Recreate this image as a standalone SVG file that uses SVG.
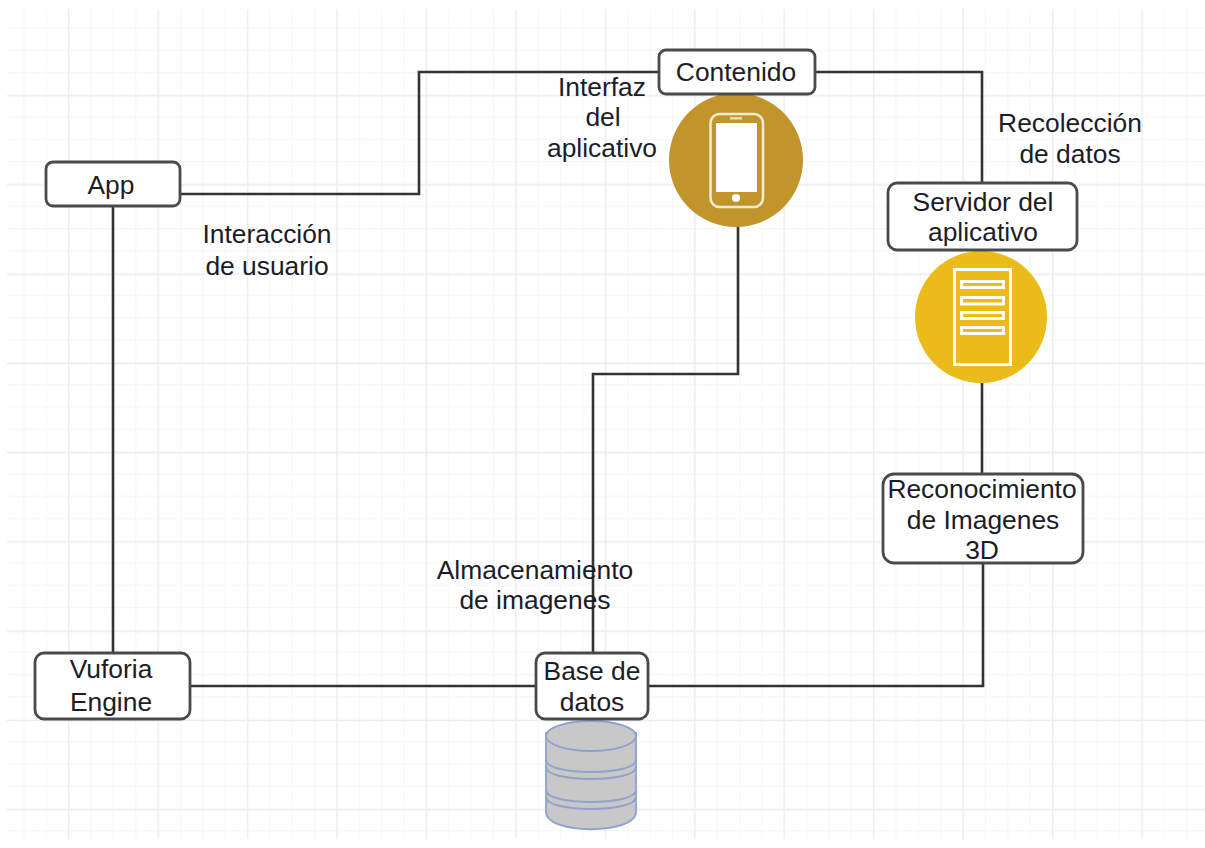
<svg xmlns="http://www.w3.org/2000/svg" width="1205" height="848" viewBox="0 0 1205 848">
<style>
.box{fill:#fff;stroke:#4a4a4a;stroke-width:2.8}
.wire{fill:none;stroke:#333;stroke-width:2.6}
text{font-family:"Liberation Sans",Arial,sans-serif;font-size:26.4px;fill:#1c1c28;text-anchor:middle}
.db{fill:#c8c8c8;stroke:#8ea2cc;stroke-width:1.8}
.wl{fill:none;stroke:#fff;stroke-width:3}
</style>
<defs>
<pattern id="minor" width="22.36" height="22.3" patternUnits="userSpaceOnUse" x="1" y="5">
<path d="M0.5 0V22.3M0 0.5H22.36" fill="none" stroke="#f7f7f7" stroke-width="1.4"/>
</pattern>
<pattern id="major" width="89.45" height="89.25" patternUnits="userSpaceOnUse" x="68" y="6">
<path d="M0.5 0V89.25M0 0.5H89.45" fill="none" stroke="#ececec" stroke-width="1.5"/>
</pattern>
</defs>
<rect width="1205" height="848" fill="#fff"/>
<g id="grid">
<rect x="7" y="9" width="1198" height="830" fill="url(#minor)"/>
<rect x="7" y="9" width="1198" height="830" fill="url(#major)"/>
</g>
<g id="connectors">
<path class="wire" d="M180 194H419V72H659"/>
<path class="wire" d="M815 72H982V183"/>
<path class="wire" d="M982 383V474"/>
<path class="wire" d="M113 206V653"/>
<path class="wire" d="M190 686H536"/>
<path class="wire" d="M648 686H983V562"/>
<path class="wire" d="M738 226V374H593V653"/>
</g>
<g id="icon-phone">
<circle cx="736" cy="160" r="67" fill="#c1952c"/>
<rect x="710.500" y="114" width="52.500" height="93" rx="9" fill="none" stroke="#f3ead2" stroke-width="2.6"/>
<rect x="716" y="123" width="41" height="69" fill="#fff"/>
<rect x="730" y="117" width="12" height="2.6" fill="#e9d8ac"/>
<circle cx="736" cy="198" r="4" fill="#fff"/>
</g>
<g id="icon-server">
<circle cx="981" cy="317" r="66" fill="#ebbc19"/>
<rect x="954.500" y="269.500" width="56" height="95" class="wl"/>
<rect x="961.500" y="281.500" width="42" height="6" class="wl"/>
<rect x="961.500" y="297.500" width="42" height="6.500" class="wl"/>
<rect x="961.500" y="312.500" width="42" height="6" class="wl"/>
<rect x="961.500" y="327.500" width="42" height="6" class="wl"/>
</g>
<g id="icon-db">
<path class="db" d="M546 733V812C546 835 636 835 636 812V733Z"/>
<ellipse class="db" cx="591" cy="736" rx="45" ry="15"/>
<path class="db" style="fill:none" d="M546 760C546 776 636 776 636 760M546 767C546 783 636 783 636 767M546 790C546 806 636 806 636 790M546 797C546 813 636 813 636 797"/>
</g>
<g id="node-contenido">
<rect class="box" x="659" y="50" width="156" height="44" rx="7"/>
<text x="736" y="81">Contenido</text>
</g>
<g id="node-app">
<rect class="box" x="46" y="162" width="134" height="44" rx="7"/>
<text x="111" y="194">App</text>
</g>
<g id="node-servidor">
<rect class="box" x="888" y="183" width="189" height="67" rx="9"/>
<text x="983" y="211">Servidor del</text>
<text x="983" y="241">aplicativo</text>
</g>
<g id="node-reconocimiento">
<rect class="box" x="883" y="474" width="200" height="89" rx="11"/>
<text x="982" y="498">Reconocimiento</text>
<text x="983" y="529">de Imagenes</text>
<text x="982" y="559">3D</text>
</g>
<g id="node-vuforia">
<rect class="box" x="35" y="653" width="155" height="66" rx="9"/>
<text x="111" y="678">Vuforia</text>
<text x="111" y="711">Engine</text>
</g>
<g id="node-base">
<rect class="box" x="536" y="653" width="112" height="66" rx="9"/>
<text x="592" y="680">Base de</text>
<text x="592" y="711">datos</text>
</g>
<g id="labels">
<text x="602" y="96">Interfaz</text>
<text x="603" y="126">del</text>
<text x="602" y="157">aplicativo</text>
<text x="1070" y="132">Recolección</text>
<text x="1070" y="163">de datos</text>
<text x="267" y="243">Interacción</text>
<text x="267" y="275">de usuario</text>
<text x="535" y="579">Almacenamiento</text>
<text x="535" y="609">de imagenes</text>
</g>
</svg>
